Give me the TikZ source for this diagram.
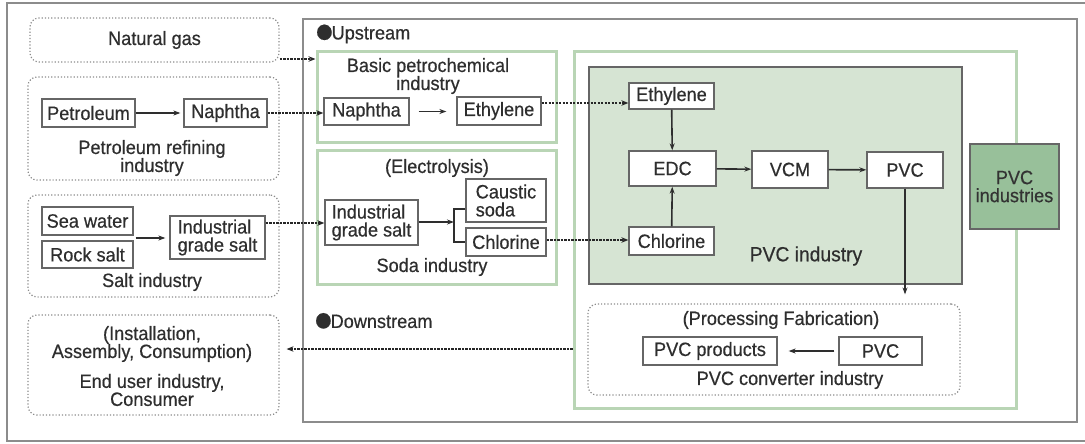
\documentclass[tikz,border=0pt]{standalone}
\usepackage{fontspec}
\setmainfont[FakeStretch=0.94, FakeBold=0.5]{Liberation Sans}
\usetikzlibrary{arrows.meta,calc}
\definecolor{ink}{HTML}{2E2E2E}
\definecolor{frameg}{HTML}{B9D5B5}
\definecolor{panel}{HTML}{D6E4D3}
\definecolor{deepg}{HTML}{98C09A}
\definecolor{edge}{HTML}{666666}
\definecolor{rule}{HTML}{8C8C8C}
\begin{document}
\begin{tikzpicture}[x=1pt,y=-1pt,
  font=\fontsize{19.3}{18}\selectfont, text=ink,
  bx/.style={draw=edge, line width=1.3pt, fill=white, inner sep=0pt, align=center},
  dotbox/.style={draw=rule, line width=1.2pt, dotted, rounded corners=9pt, inner sep=0pt},
  gframe/.style={draw=frameg, line width=3pt, inner sep=0pt},
  lbl/.style={inner sep=0pt, align=center},
  arr/.style={draw=ink, line width=1.6pt, -{Stealth[length=7pt,width=5pt]}},
  feed/.style={draw=black!85, line width=2.2pt, dash pattern=on 2.5pt off 1pt,
    -{Stealth[length=7pt,width=5.5pt]}},
  plain/.style={draw=ink, line width=1.4pt}
]
\useasboundingbox (0,0) rectangle (1085,444);
\clip (0,0) rectangle (1085,444);

% frames
\draw[rule, line width=1.8pt] (7,3) rectangle (1095,441);
\draw[rule, line width=1.8pt] (303,19) rectangle (1077,422);

% ---------- left column ----------
\node[dotbox, minimum width=249pt, minimum height=44pt] (ng) at (154.5,40) {Natural gas};

\node[dotbox, minimum width=251pt, minimum height=103pt] (prf) at (153.5,128.5) {};
\node[bx, minimum width=93pt, minimum height=28pt] (petro) at (88.5,113) {Petroleum};
\node[bx, minimum width=83pt, minimum height=28pt] (naph1) at (225.5,113) {Naphtha};
\node[lbl] (prflbl) at (152,158) {Petroleum refining\\industry};

\node[dotbox, minimum width=251pt, minimum height=102pt] (salt) at (153.5,246) {};
\node[bx, minimum width=91pt, minimum height=28pt] (sea) at (87.5,221) {Sea water};
\node[bx, minimum width=91pt, minimum height=27pt] (rock) at (87.5,254.5) {Rock salt};
\node[bx, minimum width=95pt, minimum height=43pt, align=left] (igs1) at (217.5,237.5) {Industrial\\grade salt};
\node[lbl] (saltlbl) at (152,282) {Salt industry};

\node[dotbox, minimum width=251pt, minimum height=100pt] (enduse) at (153.5,365) {};
\node[lbl] (endA) at (152,344) {(Installation,\\Assembly, Consumption)};
\node[lbl] (endB) at (152,390) {End user industry,\\Consumer};

% ---------- upstream / downstream headings ----------
\node[lbl, anchor=west] (up) at (314,34) {{\fontsize{36}{18}\selectfont\raisebox{-3pt}{●}}\kern-3pt Upstream};
\node[lbl, anchor=west] (down) at (313,322) {{\fontsize{36}{18}\selectfont\raisebox{-3pt}{●}}\kern-3pt Downstream};

\node[gframe, minimum width=239pt, minimum height=90pt] (basic) at (436.5,97) {};
\node[lbl] (basiclbl) at (428,76) {Basic petrochemical\\industry};
\node[bx, minimum width=85pt, minimum height=27pt] (naph2) at (366.5,111.5) {Naphtha};
\node[bx, minimum width=84pt, minimum height=28pt] (eth1) at (499,111) {Ethylene};

\node[gframe, minimum width=239pt, minimum height=134pt] (soda) at (436.5,217) {};
\node[lbl] (elec) at (437,168) {(Electrolysis)};
\node[bx, minimum width=93pt, minimum height=45pt, align=left] (igs2) at (371.5,222.5) {Industrial\\grade salt};
\node[bx, minimum width=80pt, minimum height=43pt, align=left] (caustic) at (506,200.5) {Caustic\\soda\hphantom{tic}};
\node[bx, minimum width=80pt, minimum height=28pt] (chl1) at (506,242) {Chlorine};
\node[lbl] (sodalbl) at (432,267) {Soda industry};

% ---------- PVC industries ----------
\node[gframe, minimum width=442pt, minimum height=356pt] (pvcall) at (795,230) {};
\node[draw=edge, line width=1.3pt, fill=panel, inner sep=0pt, minimum width=373pt, minimum height=217pt] (pvcind) at (775.5,175.5) {};
\node[bx, minimum width=85pt, minimum height=26pt] (eth2) at (671.5,96) {Ethylene};
\node[bx, minimum width=87pt, minimum height=35pt] (edc) at (672.5,168.5) {EDC};
\node[bx, minimum width=76pt, minimum height=37pt] (vcm) at (790,169.5) {VCM};
\node[bx, minimum width=76pt, minimum height=36pt] (pvc1) at (905,170) {PVC};
\node[bx, minimum width=85pt, minimum height=28pt] (chl2) at (671.5,241) {Chlorine};
\node[lbl, font=\fontsize{20.5}{20}\selectfont] (pvcindlbl) at (806,256) {PVC industry};

\node[dotbox, fill=white, minimum width=372pt, minimum height=91pt] (conv) at (774,349.5) {};
\node[lbl] (proc) at (781,320) {(Processing Fabrication)};
\node[bx, minimum width=134pt, minimum height=28pt] (prod) at (710,351) {PVC products};
\node[bx, minimum width=83pt, minimum height=28pt] (pvc2) at (880.5,351) {PVC};
\node[lbl] (convlbl) at (790,380) {PVC converter industry};

\node[draw=edge, line width=1.3pt, fill=deepg, inner sep=0pt, align=center,
  minimum width=89pt, minimum height=85pt, text=black!80] (pvcs) at (1014.5,186.5) {PVC\\industries};

% ---------- connectors ----------
\draw[arr, shorten >=3pt] (petro) -- (naph1);
\draw[arr, shorten <=2pt, shorten >=4pt] ($(sea.south east)!0.5!(rock.north east)$) -- (igs1.west |- 0,238);
\draw[arr, shorten <=9pt, shorten >=10pt] (naph2) -- (eth1.west |- naph2);

\coordinate (fork) at (454,222);
\draw[arr] (igs2.east |- fork) -- (fork);
\draw[plain] (caustic.west |- 0,209) -| (454,242) -- (chl1.west |- 0,242);

\draw[arr] (eth2) -- (edc);
\draw[arr] (chl2) -- (edc);
\draw[arr] (edc) -- (vcm);
\draw[arr] (vcm) -- (pvc1);
\draw[arr, shorten >=9pt] (pvc1.south) -- (pvc1.south |- conv.north);
\draw[arr, shorten <=4pt, shorten >=11pt] (pvc2) -- (prod);

\draw[feed] (ng.east |- 0,59) -- (basic.west |- 0,59);
\draw[feed] (naph1.east) -- (naph2.west |- naph1.east);
\draw[feed] (igs1.east |- 0,223) -- (igs2.west |- 0,223);
\draw[feed, dash pattern=on 2pt off 1.5pt, line width=1.5pt] (eth1.east |- 0,103) -- (eth2.west |- 0,103);
\draw[feed] (chl1.east |- 0,240) -- (chl2.west |- 0,240);
\draw[feed, shorten >=7pt] (pvcall.west |- 0,349) -- (enduse.east |- 0,349);
\end{tikzpicture}
\end{document}
